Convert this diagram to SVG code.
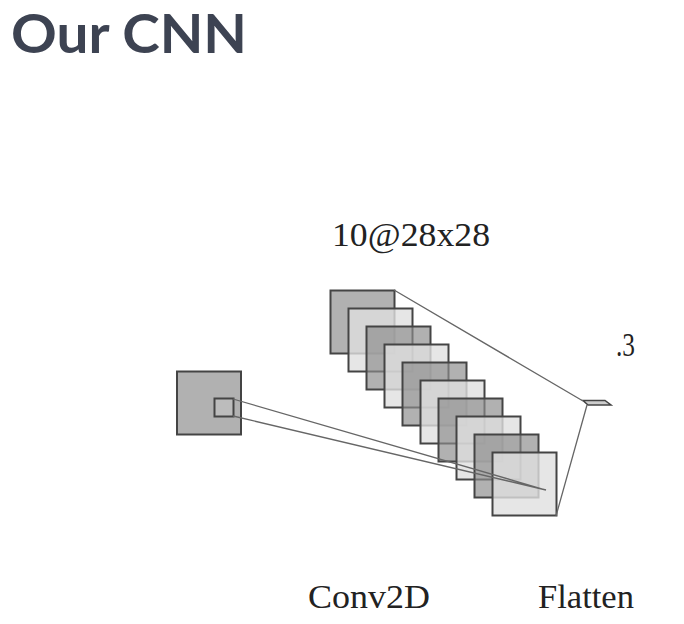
<svg xmlns="http://www.w3.org/2000/svg" width="684" height="624" viewBox="0 0 684 624">
<style>
.t{font-family:"Liberation Serif",serif;font-size:34px;fill:#222}
.d{fill:#8c8c8c;fill-opacity:.68;stroke:#444;stroke-width:2}
.l{fill:#e0e0e0;fill-opacity:.8;stroke:#444;stroke-width:2}
.c{fill:none;stroke:#666;stroke-width:1.300}
</style>
<rect width="684" height="624" fill="#fff"/>
<text id="title" x="11" y="53" textLength="236" lengthAdjust="spacingAndGlyphs" style="font-family:Lato,sans-serif;font-size:53px;font-weight:700;fill:#3d4352">Our CNN</text>
<g id="input"><rect class="d" x="177" y="371.500" width="64" height="63"/><rect x="214.500" y="398.500" width="19" height="18" fill="#ccc" fill-opacity=".4" stroke="#444" stroke-width="2"/></g>
<g id="conv">
<rect class="d" x="330.500" y="290.500" width="64" height="63"/>
<rect class="l" x="348.500" y="308.500" width="64" height="63"/>
<rect class="d" x="366.500" y="326.500" width="64" height="63"/>
<rect class="l" x="384.500" y="344.500" width="64" height="63"/>
<rect class="d" x="402.500" y="362.500" width="64" height="63"/>
<rect class="l" x="420.500" y="380.500" width="64" height="63"/>
<rect class="d" x="438.500" y="398.500" width="64" height="63"/>
<rect class="l" x="456.500" y="416.500" width="64" height="63"/>
<rect class="d" x="474.500" y="434.500" width="64" height="63"/>
<rect class="l" x="492.500" y="452.500" width="64" height="63"/>
</g>
<g id="flatten"><polygon points="583,400.500 605,400.500 611,405 588,405" fill="#ccc" stroke="#444" stroke-width="1.500"/></g>
<g id="connectors">
<path class="c" d="M233 399L546 490M233 416L546 490M394 290L583 401M556 516L587 405"/>
</g>
<text class="t" x="332" y="246" textLength="158" lengthAdjust="spacingAndGlyphs">10@28x28</text>
<text class="t" x="616" y="356" textLength="19" lengthAdjust="spacingAndGlyphs">.3</text>
<text class="t" x="308" y="608" textLength="122" lengthAdjust="spacingAndGlyphs">Conv2D</text>
<text class="t" x="538" y="608" textLength="96" lengthAdjust="spacingAndGlyphs">Flatten</text>
</svg>
